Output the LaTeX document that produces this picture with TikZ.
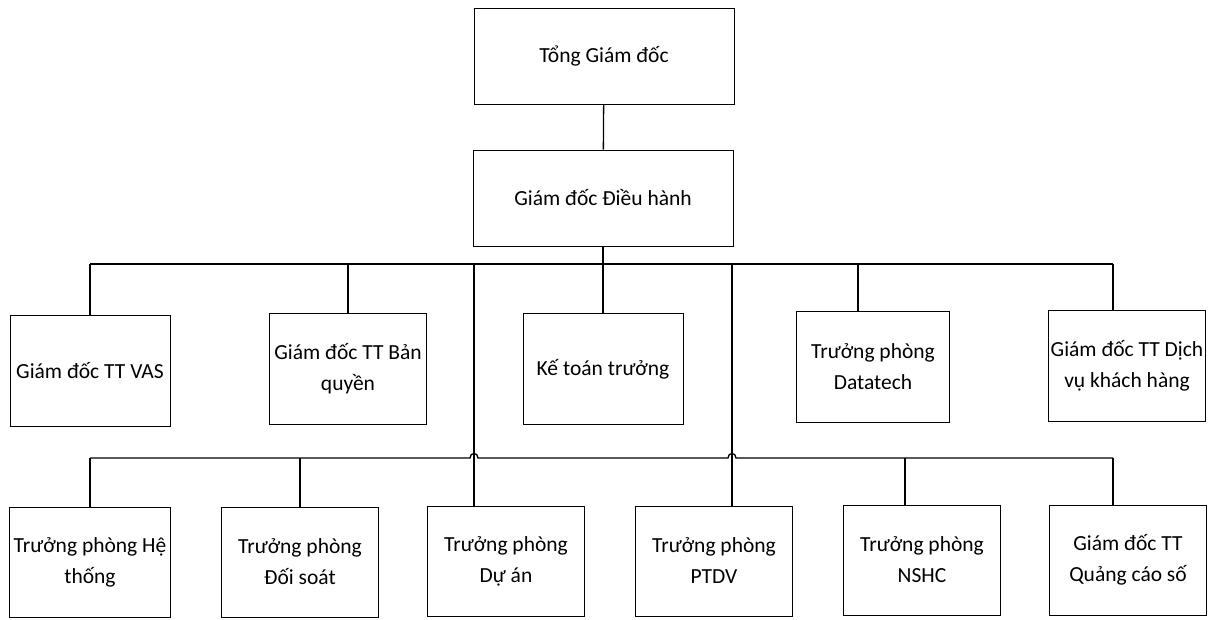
\documentclass[tikz,border=0pt]{standalone}
\usepackage{fontspec}
\setmainfont{Carlito}

\begin{document}
\begin{tikzpicture}[x=1pt, y=-1pt,
  every node/.style={draw, line width=0.7pt, align=center, inner sep=1pt, font=\fontsize{21.5}{31}\selectfont},
  top/.style={minimum width=260pt, minimum height=96pt},
  unit/.style={minimum width=157pt, minimum height=111pt},
  wire/.style={line width=1.3pt}]
\useasboundingbox (0,0) rectangle (1211,619);
\node[top] (tgd) at (604,56) {Tổng Giám đốc};
\node[top] (gddh) at (603,198) {Giám đốc Điều hành};
\node[unit, minimum width=160pt] (vas) at (90,371) {Giám đốc TT VAS};
\node[unit] (bq) at (348,369) {Giám đốc TT Bản\\quyền};
\node[unit, minimum width=160pt] (kt) at (603,369) {Kế toán trưởng};
\node[unit, minimum width=153pt] (dt) at (873,367) {Trưởng phòng\\Datatech};
\node[unit] (dv) at (1127,366) {Giám đốc TT Dịch\\vụ khách hàng};
\node[unit, minimum width=161pt, minimum height=110pt] (ht) at (90,562) {Trưởng phòng Hệ\\thống};
\node[unit, minimum height=110pt] (ds) at (300,562) {Trưởng phòng\\Đối soát};
\node[unit, minimum height=110pt] (da) at (506,561) {Trưởng phòng\\Dự án};
\node[unit, minimum height=110pt] (pt) at (714,561) {Trưởng phòng\\PTDV};
\node[unit, minimum height=110pt] (ns) at (922,560) {Trưởng phòng\\NSHC};
\node[unit, minimum height=110pt] (qc) at (1128,560) {Giám đốc TT\\Quảng cáo số};
\coordinate (b1) at (603,264);
\coordinate (u1) at (90,264);
\coordinate (u2) at (348,264);
\coordinate (u3) at (474,264);
\coordinate (u4) at (732,264);
\coordinate (u5) at (858,264);
\coordinate (u6) at (1113,264);
\coordinate (l1) at (90,458);
\coordinate (l2) at (300,458);
\coordinate (l5) at (905,458);
\coordinate (l6) at (1113,458);
\draw[wire] (tgd) -- (gddh);
\draw[wire] (gddh) -- (b1);
\draw[wire] (u1) -- (u6);
\draw[wire] (b1) -- (kt);
\draw[wire] (u1) -- (vas);
\draw[wire] (u2) -- (bq);
\draw[wire] (u5) -- (u5 |- dt.north);
\draw[wire] (u6) -- (u6 |- dv.north);
\draw[wire] (u3) -- (u3 |- da.north);
\draw[wire] (u4) -- (u4 |- pt.north);
\draw[wire] (l1) -- (470,458) .. controls (470,452) and (478,452) .. (478,458)
  -- (728,458) .. controls (728,452) and (736,452) .. (736,458) -- (l6);
\draw[wire] (l1) -- (ht);
\draw[wire] (l2) -- (ds);
\draw[wire] (l5) -- (l5 |- ns.north);
\draw[wire] (l6) -- (l6 |- qc.north);
\end{tikzpicture}
\end{document}
